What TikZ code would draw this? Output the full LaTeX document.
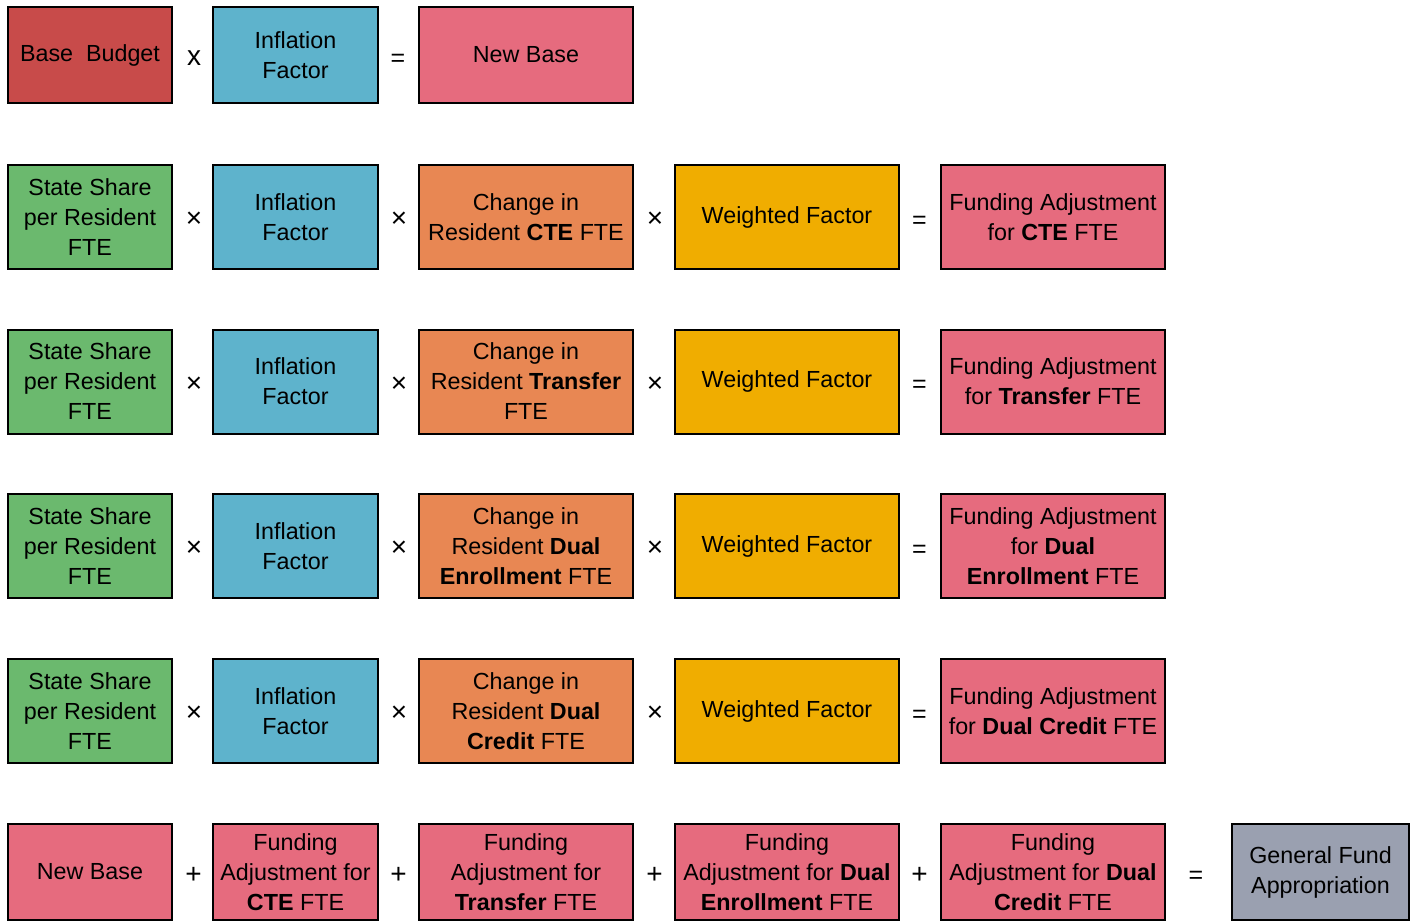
\documentclass[tikz,border=0pt]{standalone}
\usepackage{fontspec}
\setmainfont{Liberation Sans}
\definecolor{cBase}{RGB}{200,75,74}
\definecolor{cInfl}{RGB}{94,179,204}
\definecolor{cPink}{RGB}{230,107,126}
\definecolor{cGreen}{RGB}{107,185,110}
\definecolor{cOrange}{RGB}{232,135,83}
\definecolor{cYellow}{RGB}{240,173,0}
\definecolor{cGray}{RGB}{154,160,176}
\begin{document}
\begin{tikzpicture}[x=1pt,y=-1pt,
  box/.style={draw=black, line width=2pt, inner sep=0pt, align=center,
    font=\fontsize{23.3}{30}\selectfont, text=black},
  w1/.style={minimum width=164pt},
  w2/.style={minimum width=165pt},
  w3/.style={minimum width=214pt},
  w4/.style={minimum width=224pt},
  w5/.style={minimum width=224pt},
  w6/.style={minimum width=177pt},
  hA/.style={minimum height=96pt},
  hB/.style={minimum height=104pt},
  op/.style={font=\fontsize{28}{30}\selectfont, inner sep=0pt},
  opeq/.style={font=\fontsize{25}{30}\selectfont, inner sep=0pt},
]
\useasboundingbox (0,0) rectangle (1416,922);
% row 1
\node[box,w1,hA,fill=cBase] (b11) at (90,55) {\raisebox{-2pt}{Base~ Budget}};
\node[box,w2,hA,fill=cInfl] (b12) at (295.5,55) {Inflation\\Factor};
\node[box,w3,hA,fill=cPink] (b13) at (526,55) {New Base};
\node[op] (o11) at (194,58) {x};
\node[opeq] (o12) at (398,60) {=};
% rows 2-5
\foreach \r/\y/\c/\f in {2/217/{Change in\\Resident \textbf{CTE} FTE}/{Funding Adjustment\\for \textbf{CTE} FTE},
  3/381.5/{Change in\\Resident \textbf{Transfer}\\FTE}/{Funding Adjustment\\for \textbf{Transfer} FTE},
  4/546/{Change in\\Resident \textbf{Dual}\\\textbf{Enrollment} FTE}/{Funding Adjustment\\for \textbf{Dual}\\\textbf{Enrollment} FTE},
  5/711/{Change in\\Resident \textbf{Dual}\\\textbf{Credit} FTE}/{Funding Adjustment\\for \textbf{Dual Credit} FTE}}{
  \node[box,w1,hB,fill=cGreen] (b\r1) at (90,\y) {State Share\\per Resident\\FTE};
  \node[box,w2,hB,fill=cInfl] (b\r2) at (295.5,\y) {Inflation\\Factor};
  \node[box,w3,hB,fill=cOrange] (b\r3) at (526,\y) {\c};
  \node[box,w4,hB,fill=cYellow] (b\r4) at (787,\y) {Weighted Factor};
  \node[box,w5,hB,fill=cPink] (b\r5) at (1053,\y) {\f};
  \node[op] (o\r1) at (194,\y+3) {×};
  \node[op] (o\r2) at (399,\y+3) {×};
  \node[op] (o\r3) at (655,\y+3) {×};
  \node[opeq] (o\r4) at (919.5,\y+5) {=};
}
% row 6
\node[box,w1,hA,fill=cPink] (b61) at (90,872) {New Base};
\node[box,w2,hA,fill=cPink] (b62) at (295.5,872) {Funding\\Adjustment for\\\textbf{CTE} FTE};
\node[box,w3,hA,fill=cPink] (b63) at (526,872) {Funding\\Adjustment for\\\textbf{Transfer} FTE};
\node[box,w4,hA,fill=cPink] (b64) at (787,872) {Funding\\Adjustment for \textbf{Dual}\\\textbf{Enrollment} FTE};
\node[box,w5,hA,fill=cPink] (b65) at (1053,872) {Funding\\Adjustment for \textbf{Dual}\\\textbf{Credit} FTE};
\node[box,w6,hA,fill=cGray] (b66) at (1320.5,872) {General Fund\\Appropriation};
\node[op] (o61) at (193.5,875) {+};
\node[op] (o62) at (398.5,875) {+};
\node[op] (o63) at (654.5,875) {+};
\node[op] (o64) at (919.5,875) {+};
\node[opeq] (o65) at (1196,877) {=};
\end{tikzpicture}
\end{document}
